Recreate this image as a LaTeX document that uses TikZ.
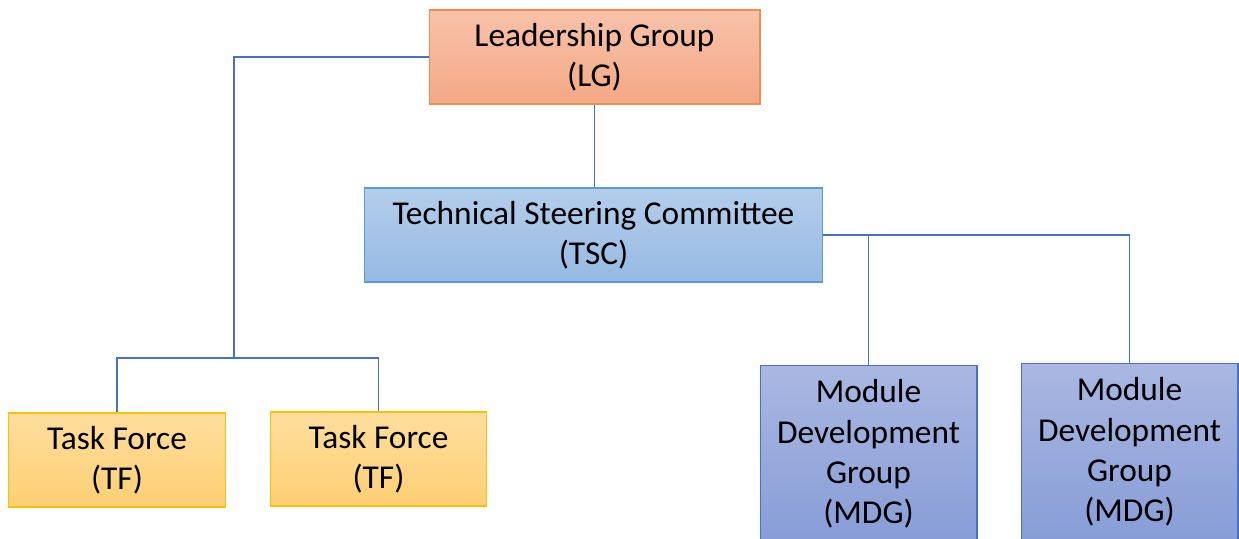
\documentclass[tikz,border=0pt]{standalone}
\usepackage{fontspec}
\setmainfont{Carlito}
\definecolor{lgtop}{RGB}{248,194,170}
\definecolor{lgbot}{RGB}{244,168,133}
\definecolor{lgline}{RGB}{240,140,80}
\definecolor{tsctop}{RGB}{180,205,235}
\definecolor{tscbot}{RGB}{150,186,227}
\definecolor{tscline}{RGB}{91,155,213}
\definecolor{tftop}{RGB}{254,222,158}
\definecolor{tfbot}{RGB}{253,207,116}
\definecolor{tfline}{RGB}{255,192,0}
\definecolor{mdgtop}{RGB}{170,183,225}
\definecolor{mdgbot}{RGB}{135,157,215}
\definecolor{linkblue}{RGB}{68,114,196}
\tikzset{
  unit/.style={rectangle, inner sep=0pt, line width=0.6pt, align=center,
    font=\fontsize{19}{22.9}\selectfont, minimum height=1.88cm},
  lgbox/.style={unit, draw=lgline, top color=lgtop, bottom color=lgbot, minimum width=6.62cm},
  tscbox/.style={unit, draw=tscline, top color=tsctop, bottom color=tscbot, minimum width=9.18cm},
  tfbox/.style={unit, draw=tfline, top color=tftop, bottom color=tfbot, minimum width=4.33cm},
  mdgbox/.style={unit, draw=linkblue, top color=mdgtop, bottom color=mdgbot,
    minimum width=4.34cm, minimum height=3.56cm},
  link/.style={draw=linkblue, line width=0.6pt}
}
\begin{document}
\begin{tikzpicture}[x=0.02cm, y=-0.02cm]
\useasboundingbox (0,0) rectangle (1239,538);
\clip (0,0) rectangle (1239,538);

\node[lgbox] (lg) at (594.5,57) {Leadership Group\\(LG)};
\node[tscbox] (tsc) at (593.5,235) {Technical Steering Committee\\(TSC)};
\node[tfbox] (tf1) at (117,460) {Task Force\\(TF)};
\node[tfbox] (tf2) at (378.5,459) {Task Force\\(TF)};
\node[mdgbox] (mdg1) at (868.5,454) {Module\\Development\\Group\\(MDG)};
\node[mdgbox] (mdg2) at (1129.5,452) {Module\\Development\\Group\\(MDG)};

% task forces hang off the leadership group
\coordinate (tfsplit) at (234,358);
\draw[link] (lg.west) -| (tfsplit) -| (tf1.north);
\draw[link] (tfsplit) -| (tf2.north);

% steering committee and its module groups
\draw[link] (lg.south) -- (lg.south |- tsc.north);
\draw[link] (tsc.east) -| (mdg2.north);
\draw[link] (mdg1.north) |- (tsc.east);
\end{tikzpicture}
\end{document}
